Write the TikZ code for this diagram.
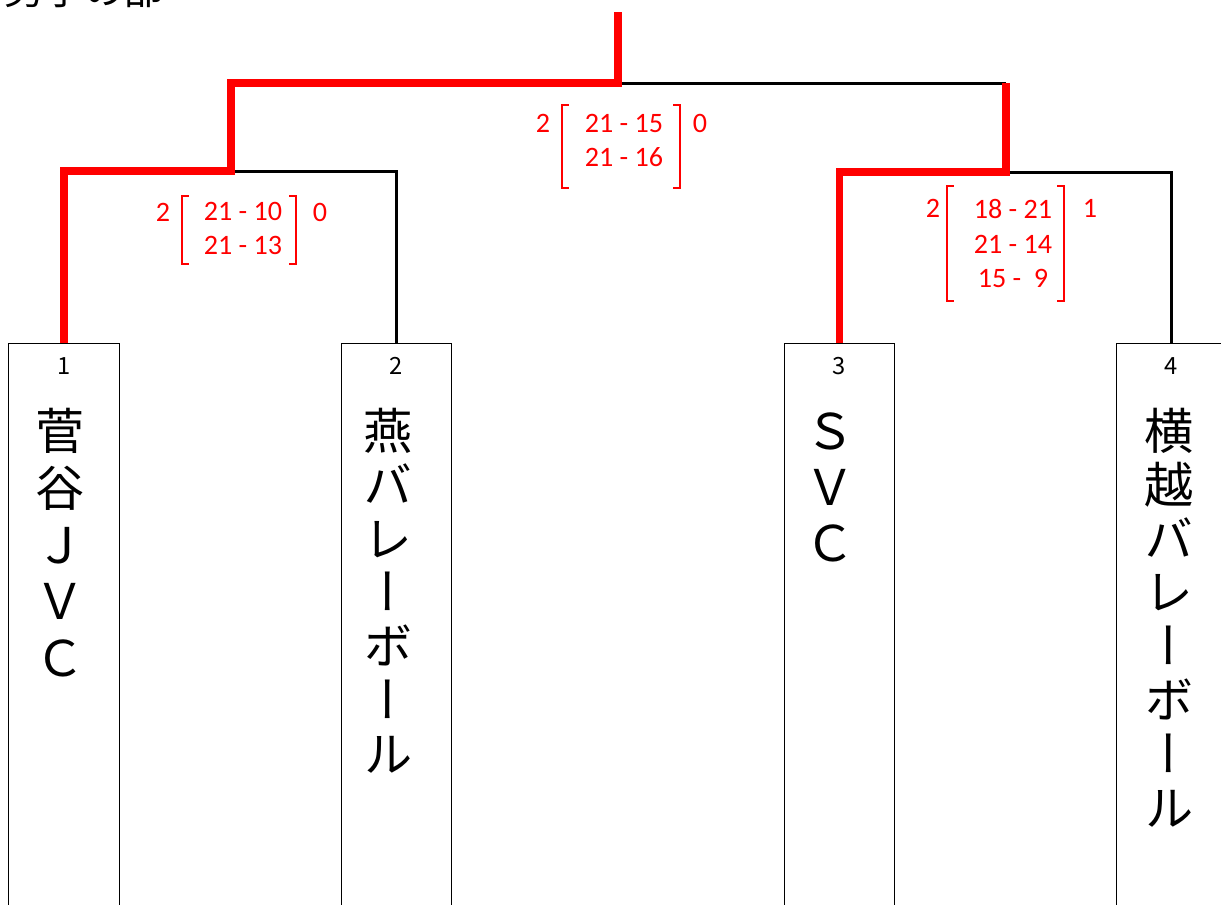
\documentclass[tikz,border=0pt]{standalone}
\usepackage{fontspec}
\usepackage{tikz}
\usetikzlibrary{calc}
\newfontfamily\jpfont{Noto Sans CJK JP}
\newfontfamily\jpvert[RawFeature=+vert]{Noto Sans CJK JP}
\newfontfamily\scorefont{Carlito}
\definecolor{winred}{HTML}{FF0000}
\tikzset{
  lose/.style={line width=1.7pt, black},
  win/.style={line width=4.5pt, winred},
  teambox/.style={draw, line width=0.75pt, minimum width=2.21cm, minimum height=14cm, anchor=north, inner sep=0pt},
  seed/.style={font=\jpfont\fontsize{13.5}{16}\selectfont, inner sep=0pt},
  teamname/.style={font=\jpvert\fontsize{28}{#1}\selectfont, align=center, anchor=north, inner sep=0pt},
  teamname/.default=32.3pt,
  score/.style={font=\scorefont\fontsize{16}{19.8}\selectfont, text=winred, align=center, inner sep=0pt},
  setframe/.style 2 args={minimum width=#1, minimum height=#2, inner sep=0pt},
  bracket/.style={winred, line width=1pt}
}
\newcommand{\setbrackets}[1]{%
  \draw[bracket] ($(#1.north west)+(7,0)$) -- (#1.north west) -- (#1.south west) -- ++(7,0);
  \draw[bracket] ($(#1.north east)+(-7,0)$) -- (#1.north east) -- (#1.south east) -- ++(-7,0);}

\begin{document}
\begin{tikzpicture}[x=0.02cm, y=0.02cm]
		\clip (0,0) rectangle (1221,-904);
		\node[font=\jpfont\fontsize{22.7}{26}\selectfont, anchor=base west, inner sep=0pt] (title) at (4,-4) {男子の部>};
		
		\node[teambox] (t1) at (64,-343) {};
		\node[teambox] (t2) at (396.5,-343) {};
		\node[teambox] (t3) at (839.5,-343) {};
		\node[teambox] (t4) at (1171.5,-343) {};
		
		\node[seed] (n1) at ($(t1.north)+(0,-23)$) {1};
		\node[seed] (n2) at ($(t2.north)+(0,-23)$) {2};
		\node[seed] (n3) at ($(t3.north)+(0,-23)$) {3};
		\node[seed] (n4) at ($(t4.north)+(0,-23)$) {4};
		
		\node[teamname] (name1) at ($(t1.north)+(-4,-65)$) {\vphantom{菅}菅\\谷\\Ｊ\\Ｖ\\Ｃ};
		\node[teamname=30.6pt] (name2) at ($(t2.north)+(-8,-65)$) {\vphantom{菅}燕\\バ\\レ\\ー\\ボ\\ー\\ル};
		\node[teamname=31.7pt] (name3) at ($(t3.north)+(-9,-65)$) {\vphantom{菅}Ｓ\\Ｖ\\Ｃ};
		\node[teamname=30.6pt] (name4) at ($(t4.north)+(-2,-65)$) {\vphantom{菅}横\\越\\バ\\レ\\ー\\ボ\\ー\\ル};
		
		\coordinate (m1) at (231,-171);
		\coordinate (m2) at (1006,-172);
		\coordinate (f) at (618,-83);
		\coordinate (top) at (618,-12);
		
		\draw[lose] (t2.north) |- (m1);
		\draw[lose] (t4.north) |- (m2);
		\draw[lose] (f) -- (m2 |- f);
		\draw[win] (t1.north) |- (m1) |- (f) -- (top);
		\draw[win] (t3.north) |- (m2) -- (m2 |- f);
		
		\node[setframe={2.28cm}{1.36cm}] (b1) at (239,-230) {};
		\setbrackets{b1}
		\node[score] (s1) at (243,-228.5) {21 - 10\\21 - 13};
		\node[score] (w1) at (163,-212) {2};
		\node[score] (l1) at (320,-212) {0};
		
		\node[setframe={2.36cm}{1.66cm}] (bf) at (621,-146.5) {};
		\setbrackets{bf}
		\node[score] (sf) at (624,-140.5) {21 - 15\\21 - 16};
		\node[score] (wf) at (543,-123) {2};
		\node[score] (lf) at (700,-123) {0};
		
		\node[setframe={2.34cm}{2.3cm}] (b2) at (1005.5,-243.5) {};
		\setbrackets{b2}
		\node[score] (s2) at (1013,-243.5) {18 - 21\\21 - 14\\15 -\ \ 9};
		\node[score] (w2) at (933,-208) {2};
		\node[score] (l2) at (1090,-208) {1};
	\end{tikzpicture}
\end{document}
